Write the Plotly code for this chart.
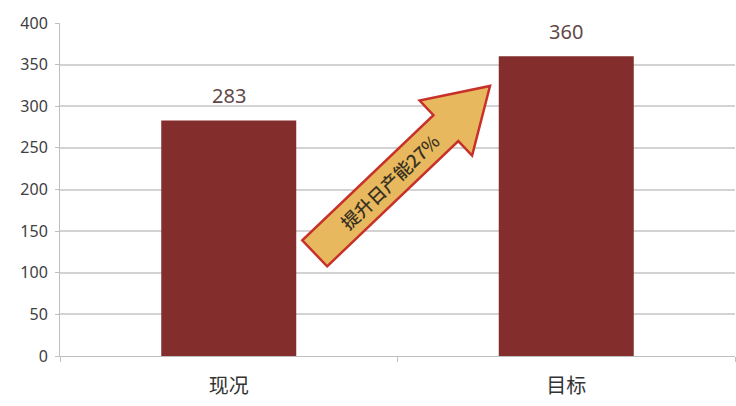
import math
import plotly.graph_objects as go

# Daily output: current vs. target
categories = ["现况", "目标"]
values = [283, 360]
y_ticks = [0, 50, 100, 150, 200, 250, 300, 350, 400]
arrow_text = "提升日产能27%"

W, H = 736, 406
M_L, M_R, M_T, M_B = 60, 1, 23, 50
PW, PH = W - M_L - M_R, H - M_T - M_B

BAR = "#832D2D"
CJK = "Noto Sans CJK SC, Noto Sans, sans-serif"

fig = go.Figure()
fig.add_trace(go.Bar(
    x=categories, y=values,
    marker=dict(color=BAR, line=dict(width=0)),
    width=0.4,
    hoverinfo="x+y",
))

# Value labels above each bar
for cat, val in zip(categories, values):
    fig.add_annotation(x=cat, y=val, text=str(val), showarrow=False,
                       yanchor="bottom", yshift=9,
                       font=dict(family="Noto Sans, sans-serif", size=20,
                                 color="#634848"))


def to_paper(px, py):
    """Pixel position in the page -> paper coordinates of the plot area."""
    return (px - M_L) / PW, (H - M_B - py) / PH


# Block arrow drawn in pixel space, then converted to paper coordinates
tail = (314.7, 253.3)
tip = (490.0, 86.0)
shaft_half, head_half, head_len = 18.0, 38.0, 61.0
dx, dy = tip[0] - tail[0], tip[1] - tail[1]
length = math.hypot(dx, dy)
ux, uy = dx / length, dy / length
nx, ny = -uy, ux
base = (tip[0] - ux * head_len, tip[1] - uy * head_len)

pts = [
    (tail[0] + nx * shaft_half, tail[1] + ny * shaft_half),
    (base[0] + nx * shaft_half, base[1] + ny * shaft_half),
    (base[0] + nx * head_half, base[1] + ny * head_half),
    tip,
    (base[0] - nx * head_half, base[1] - ny * head_half),
    (base[0] - nx * shaft_half, base[1] - ny * shaft_half),
    (tail[0] - nx * shaft_half, tail[1] - ny * shaft_half),
]
paper_pts = [to_paper(*p) for p in pts]
path = "M " + " L ".join(f"{x:.5f},{y:.5f}" for x, y in paper_pts) + " Z"
fig.add_shape(type="path", path=path, xref="paper", yref="paper",
              fillcolor="#E7B85E", line=dict(color="#C8302A", width=2.5),
              layer="above")

angle = math.degrees(math.atan2(-dy, dx))
cx, cy = tail[0] + ux * 104, tail[1] + uy * 104
tx, ty = to_paper(cx, cy)
fig.add_annotation(x=tx, y=ty, xref="paper", yref="paper", text=arrow_text,
                   showarrow=False, textangle=-angle,
                   font=dict(family=CJK, size=18, color="#3A3122",
                             weight=500),
                   xanchor="center", yanchor="middle")

fig.update_layout(
    width=W, height=H,
    margin=dict(l=M_L, r=M_R, t=M_T, b=M_B),
    paper_bgcolor="white", plot_bgcolor="white",
    showlegend=False,
    bargap=0.6,
    xaxis=dict(
        type="category",
        showline=True, linecolor="#BFBFBF", linewidth=1,
        ticks="outside", tickson="boundaries", ticklen=5, tickcolor="#BFBFBF",
        tickfont=dict(family=CJK, size=20, color="#333333"),
        ticklabelstandoff=12,
        showgrid=False,
    ),
    yaxis=dict(
        range=[0, 400], tickvals=y_ticks,
        showline=True, linecolor="#BFBFBF", linewidth=1,
        ticks="outside", ticklen=4, tickcolor="#BFBFBF",
        tickfont=dict(family="Noto Sans, sans-serif", size=16, color="#404040"),
        ticklabelstandoff=4,
        showgrid=True, gridcolor="#D3D3D3", gridwidth=1.5,
        zeroline=False,
    ),
)

fig.write_html("out.html")
